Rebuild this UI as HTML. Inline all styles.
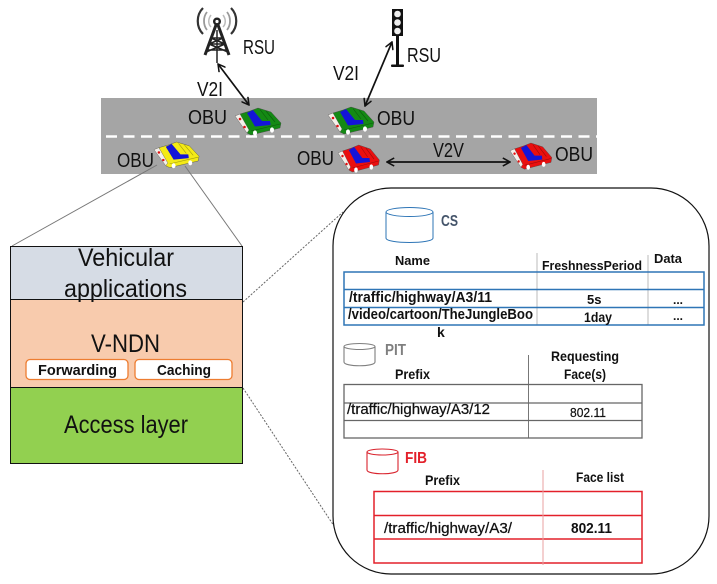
<!DOCTYPE html>
<html><head><meta charset="utf-8"><style>
html,body{margin:0;padding:0;background:#fff;width:717px;height:584px;overflow:hidden}
svg{display:block}
text{font-family:"Liberation Sans",sans-serif;fill:#111}
.b{font-weight:bold}
</style></head><body>
<svg width="717" height="584" viewBox="0 0 717 584" xmlns="http://www.w3.org/2000/svg">
<defs>
<marker id="ah" viewBox="0 0 10 10" refX="9" refY="5" markerWidth="9" markerHeight="9" orient="auto-start-reverse" markerUnits="userSpaceOnUse"><path d="M1 0.5L9 5L1 9.5" fill="none" stroke="#111" stroke-width="1.7"/></marker>
<g id="car">
<path d="M5 6L15 3L23 0L36 4L46 15L45 20L16 27L12 25Z" fill="currentColor" stroke="#444" stroke-width=".4"/>
<path d="M12 5L18 2L27 13L35 13L35.500 17L20 18.500Z" fill="#1414d8"/>
<path d="M25 1.500L33 12M31 3L40 14" stroke="#000" stroke-opacity=".35" stroke-width=".6" fill="none"/>
<path d="M16 23L45 16" stroke="#000" stroke-opacity=".35" stroke-width=".6" fill="none"/>
<path d="M0 8L5 6L14 22L12 25Z" fill="#f4f0ea" stroke="#555" stroke-width=".4"/>
<circle cx="5" cy="11" r="1.300" fill="#e01010"/><circle cx="9.500" cy="19" r="1.300" fill="#e01010"/>
<ellipse cx="20" cy="25" rx="2" ry="2.600" fill="#fff"/><ellipse cx="37" cy="22" rx="2" ry="2.600" fill="#fff"/>
</g>
</defs>

<!-- road -->
<rect x="101" y="98" width="496" height="76" fill="#a5a5a5"/>
<line x1="106" y1="136.500" x2="597" y2="136.500" stroke="#fff" stroke-width="2.600" stroke-dasharray="11 6.500"/>

<!-- tower -->
<g fill="none" stroke="#222">
<circle cx="217" cy="21.500" r="2.800" stroke-width="2.400"/>
<path d="M216 25L205 55M218 25L229 55" stroke-width="3"/>
<path d="M211 38L223 38M209 44L225 44M207 50L227 50M211 38L225 44M223 38L209 44M209 44L228 52M225 44L206 52" stroke-width="1.600"/>
<path d="M217 30V63" stroke-width="1.500"/>
<path d="M203 8C196 15 196 27 203 34M231 8C238 15 238 27 231 34" stroke-width="2.200" stroke="#333"/>
<path d="M207 12C203 17 203 25 207 30M227 12C231 17 231 25 227 30" stroke-width="1.800" stroke="#999"/>
<path d="M211 15C208 19 208 24 211 27M223 15C226 19 226 24 223 27" stroke-width="1.500" stroke="#bbb"/>
</g>
<text x="243" y="54" font-size="20" textLength="32" lengthAdjust="spacingAndGlyphs">RSU</text>

<!-- traffic light -->
<rect x="392" y="9" width="11" height="27" fill="#111"/>
<circle cx="397.500" cy="14" r="3.300" fill="#eee"/><circle cx="397.500" cy="22.500" r="3.300" fill="#eee"/><circle cx="397.500" cy="31" r="3.300" fill="#eee"/>
<rect x="396" y="36" width="3" height="29" fill="#111"/>
<rect x="391" y="64.500" width="13" height="2.500" rx="1" fill="#111"/>
<text x="407" y="62" font-size="20" textLength="34" lengthAdjust="spacingAndGlyphs">RSU</text>

<!-- arrows -->
<line x1="218" y1="64" x2="249" y2="105" stroke="#111" stroke-width="1.700" marker-start="url(#ah)" marker-end="url(#ah)"/>
<line x1="392" y1="42" x2="365" y2="106" stroke="#111" stroke-width="1.700" marker-start="url(#ah)" marker-end="url(#ah)"/>
<line x1="387" y1="162" x2="510" y2="162" stroke="#111" stroke-width="1.700" marker-start="url(#ah)" marker-end="url(#ah)"/>
<text x="197" y="96" font-size="20" textLength="26" lengthAdjust="spacingAndGlyphs">V2I</text>
<text x="333" y="80" font-size="20" textLength="26" lengthAdjust="spacingAndGlyphs">V2I</text>
<text x="433" y="157" font-size="20" textLength="31" lengthAdjust="spacingAndGlyphs">V2V</text>

<!-- cars -->
<use href="#car" x="235" y="108" style="color:#148a14"/>
<use href="#car" x="328" y="107" style="color:#148a14"/>
<use href="#car" transform="translate(154 142) scale(.98 .95)" style="color:#f4ea16"/>
<use href="#car" transform="translate(338 145) scale(.9 1)" style="color:#ea0f0f"/>
<use href="#car" transform="translate(510 143) scale(.91 .97)" style="color:#ea0f0f"/>

<text x="188" y="124" font-size="20" textLength="39" lengthAdjust="spacingAndGlyphs">OBU</text>
<text x="377" y="125" font-size="20" textLength="38" lengthAdjust="spacingAndGlyphs">OBU</text>
<text x="117" y="167" font-size="20" textLength="37" lengthAdjust="spacingAndGlyphs">OBU</text>
<text x="297" y="165" font-size="20" textLength="37" lengthAdjust="spacingAndGlyphs">OBU</text>
<text x="555" y="161" font-size="20" textLength="38" lengthAdjust="spacingAndGlyphs">OBU</text>

<!-- zoom lines -->
<line x1="157" y1="165" x2="12" y2="246" stroke="#777" stroke-width="1"/>
<line x1="185" y1="166" x2="242" y2="246" stroke="#777" stroke-width="1"/>
<line x1="243" y1="302" x2="343" y2="212" stroke="#666" stroke-width="1" stroke-dasharray="2 1.500"/>
<line x1="243" y1="388" x2="334" y2="526" stroke="#666" stroke-width="1" stroke-dasharray="2 1.500"/>

<!-- layers -->
<rect x="10.500" y="246.500" width="232" height="53" fill="#d6dce5" stroke="#111"/>
<rect x="10.500" y="299.500" width="232" height="88" fill="#f8cbad" stroke="#111"/>
<rect x="10.500" y="387.500" width="232" height="76" fill="#92d050" stroke="#111"/>
<text x="78" y="266" font-size="25" textLength="96" lengthAdjust="spacingAndGlyphs">Vehicular</text>
<text x="64" y="297" font-size="25" textLength="123" lengthAdjust="spacingAndGlyphs">applications</text>
<text x="91" y="352" font-size="25" textLength="69" lengthAdjust="spacingAndGlyphs">V-NDN</text>
<rect x="26" y="359.500" width="102" height="20" rx="4" fill="#fff" stroke="#ed7d31" stroke-width="1.300"/>
<rect x="135" y="359.500" width="97" height="20" rx="4" fill="#fff" stroke="#ed7d31" stroke-width="1.300"/>
<text x="38" y="375" font-size="15" class="b" textLength="79" lengthAdjust="spacingAndGlyphs">Forwarding</text>
<text x="157" y="375" font-size="15" class="b" textLength="54" lengthAdjust="spacingAndGlyphs">Caching</text>
<text x="64" y="433" font-size="25" textLength="124" lengthAdjust="spacingAndGlyphs">Access layer</text>

<!-- big panel -->
<rect x="333" y="188" width="376" height="386" rx="58" ry="58" fill="#fff" stroke="#111" stroke-width="1.200"/>

<!-- CS -->
<g fill="none" stroke="#2e75b6" stroke-width="1">
<path d="M386 212V238C386 244 433 244 433 238V212"/>
<ellipse cx="409.500" cy="212" rx="23.500" ry="4.500"/>
</g>
<text x="441" y="226" font-size="16" class="b" style="fill:#44546a" textLength="17" lengthAdjust="spacingAndGlyphs">CS</text>
<line x1="537" y1="253" x2="537" y2="325" stroke="#bbb" stroke-width="1"/>
<line x1="648" y1="255" x2="648" y2="325" stroke="#bbb" stroke-width="1"/>
<g fill="none" stroke="#2e75b6" stroke-width="1.500">
<rect x="344" y="272" width="360" height="53"/>
<line x1="344" y1="289.500" x2="704" y2="289.500"/>
<line x1="344" y1="307.500" x2="704" y2="307.500"/>
</g>
<text x="395" y="265" font-size="13" class="b" textLength="35" lengthAdjust="spacingAndGlyphs">Name</text>
<text x="542" y="270" font-size="13" class="b" textLength="100" lengthAdjust="spacingAndGlyphs">FreshnessPeriod</text>
<text x="654" y="263" font-size="13" class="b" textLength="28" lengthAdjust="spacingAndGlyphs">Data</text>
<text x="349" y="302" font-size="15" class="b" textLength="143" lengthAdjust="spacingAndGlyphs">/traffic/highway/A3/11</text>
<text x="348" y="319" font-size="15" class="b" textLength="185" lengthAdjust="spacingAndGlyphs">/video/cartoon/TheJungleBoo</text>
<text x="437" y="337" font-size="14" class="b">k</text>
<text x="587" y="304" font-size="13" class="b">5s</text>
<text x="584" y="322" font-size="14" class="b" textLength="28" lengthAdjust="spacingAndGlyphs">1day</text>
<text x="673" y="304" font-size="12" class="b">...</text>
<text x="673" y="320" font-size="12" class="b">...</text>

<!-- PIT -->
<g fill="none" stroke="#7f7f7f" stroke-width="1.100">
<path d="M344 346.500V362C344 367 375 367 375 362V346.500"/>
<ellipse cx="359.500" cy="346.500" rx="15.500" ry="3"/>
</g>
<text x="385" y="355" font-size="16" class="b" style="fill:#7f7f7f" textLength="21" lengthAdjust="spacingAndGlyphs">PIT</text>
<text x="551" y="361" font-size="14" class="b" textLength="68" lengthAdjust="spacingAndGlyphs">Requesting</text>
<text x="564" y="379" font-size="14" class="b" textLength="42" lengthAdjust="spacingAndGlyphs">Face(s)</text>
<text x="395" y="379" font-size="14" class="b" textLength="35" lengthAdjust="spacingAndGlyphs">Prefix</text>
<line x1="528.500" y1="355" x2="528.500" y2="438" stroke="#777" stroke-width="1"/>
<g fill="none" stroke="#666" stroke-width="1.300">
<rect x="344" y="384.500" width="298" height="53.500"/>
<line x1="344" y1="403" x2="642" y2="403"/>
<line x1="344" y1="420.500" x2="642" y2="420.500"/>
</g>
<text x="347" y="414" font-size="15" style="stroke:#111;stroke-width:.25" textLength="143" lengthAdjust="spacingAndGlyphs">/traffic/highway/A3/12</text>
<text x="570" y="417" font-size="12.500" style="stroke:#111;stroke-width:.2" textLength="36" lengthAdjust="spacingAndGlyphs">802.11</text>

<!-- FIB -->
<g fill="none" stroke="#d9232d" stroke-width="1.100">
<path d="M367 452V470C367 475 398 475 398 470V452"/>
<ellipse cx="382.500" cy="452" rx="15.500" ry="3"/>
</g>
<text x="405" y="463" font-size="16" class="b" style="fill:#e3202a" textLength="22" lengthAdjust="spacingAndGlyphs">FIB</text>
<text x="425" y="485" font-size="14" class="b" textLength="35" lengthAdjust="spacingAndGlyphs">Prefix</text>
<text x="576" y="482" font-size="14" class="b" textLength="48" lengthAdjust="spacingAndGlyphs">Face list</text>
<g fill="none" stroke="#e3202a" stroke-width="1.500">
<rect x="374" y="491.500" width="268" height="71.500"/>
<line x1="374" y1="515.500" x2="642" y2="515.500"/>
<line x1="374" y1="539" x2="642" y2="539"/>
</g>
<line x1="543" y1="470" x2="543" y2="565" stroke="#e8a0a0" stroke-width="1"/>
<text x="384" y="533" font-size="14.500" style="stroke:#111;stroke-width:.25" textLength="128" lengthAdjust="spacingAndGlyphs">/traffic/highway/A3/</text>
<text x="571" y="533" font-size="14.500" class="b" textLength="41" lengthAdjust="spacingAndGlyphs">802.11</text>
</svg>
</body></html>
